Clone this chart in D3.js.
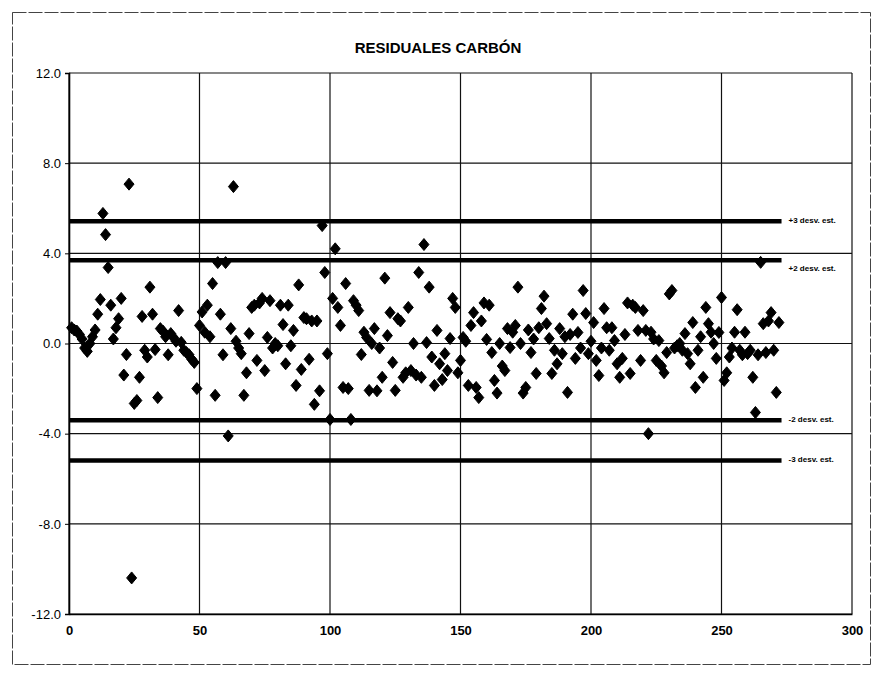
<!DOCTYPE html>
<html>
<head>
<meta charset="utf-8">
<script src="https://cdn.jsdelivr.net/npm/d3@7"></script>
<style>
  body { margin: 0; background: #fff; }
  text { font-family: "Liberation Sans Narrow", "Arial Narrow", "Liberation Sans", sans-serif; }
</style>
</head>
<body>
<div id="chart-area"></div>
<script>
const residuals = [
  0.7, 0.6, 0.55, 0.4, 0.2, -0.2, -0.35, 0.0, 0.3, 0.6,
  1.3, 1.95, 5.77, 4.83, 3.37, 1.7, 0.2, 0.7, 1.1, 2.0,
  -1.4, -0.49, 7.07, -10.4, -2.66, -2.53, -1.5, 1.2, -0.3, -0.6,
  2.5, 1.3, -0.27, -2.4, 0.66, 0.55, 0.3, -0.5, 0.44, 0.27,
  0.1, 1.46, 0.05, -0.3, -0.4, -0.5, -0.7, -0.84, -2.0, 0.8,
  1.4, 0.5, 1.7, 0.3, 2.66, -2.3, 3.59, 1.3, -0.5, 3.59,
  -4.1, 0.66, 6.96, 0.1, -0.2, -0.45, -2.3, -1.3, 0.44, 1.6,
  1.7, -0.75, 1.8, 2.0, -1.2, 0.27, 1.9, -0.2, 0.0, -0.1,
  1.7, 0.84, -0.9, 1.7, -0.1, 0.58, -1.86, 2.6, -1.15, 1.15,
  1.1, -0.7, 1.0, -2.7, 1.0, -2.1, 5.23, 3.15, -0.45, -3.37,
  2.0, 4.2, 1.6, 0.8, -1.95, 2.66, -2.0, -3.37, 1.9, 1.7,
  1.46, -0.49, 0.5, 0.27, -2.08, 0.0, 0.66, -2.1, -0.2, -1.5,
  2.9, 0.35, 1.37, -0.84, -2.08, 1.1, 1.0, -1.5, -1.3, 1.6,
  -1.2, 0.0, -1.4, 3.15, -1.5, 4.39, 0.04, 2.5, -0.6, -1.86,
  0.58, -0.9, -1.6, -0.45, -1.2, 0.22, 2.0, 1.6, -1.3, -0.75,
  0.27, 0.1, -1.86, 0.8, 1.37, -1.95, -2.4, 1.0, 1.8, 0.18,
  1.7, -0.4, -1.64, -2.2, 0.0, -1.0, -1.2, 0.66, -0.18, 0.5,
  0.8, 2.5, 0.0, -2.2, -1.95, 0.6, -0.4, 0.2, -1.33, 0.7,
  1.55, 2.1, 0.88, 0.22, -1.33, -0.3, -0.9, 0.66, -0.45, 0.3,
  -2.17, 0.4, 1.3, -0.66, 0.49, -0.2, 2.35, 1.33, -0.45, 0.1,
  0.93, -0.75, -1.42, -0.2, 1.55, 0.7, -0.3, 0.7, 0.13, -0.9,
  -1.5, -0.66, 0.4, 1.8, -1.33, 1.7, 1.6, 0.58, -0.75, 1.46,
  0.58, -4.0, 0.5, 0.2, -0.75, 0.13, -1.0, -1.3, -0.4, 2.2,
  2.35, -0.2, -0.1, 0.0, -0.3, 0.44, -0.45, -0.9, 0.93, -1.95,
  -0.3, 0.3, -1.5, 1.6, 0.88, 0.5, 0.0, -0.66, 0.49, 2.04,
  -1.64, -1.3, -0.6, -0.2, 0.5, 1.5, -0.3, -0.5, 0.5, -0.45,
  -0.3, -1.5, -3.06, -0.5, 3.6, 0.88, -0.4, 1.0, 1.37, -0.3,
  -2.17, 0.93
]

// control limits (mean +/- k standard deviations)
const limitLabels = ["+3 desv. est.", "+2 desv. est.", "-2 desv. est.", "-3 desv. est."]
const limitValues = [5.42, 3.69, -3.4, -5.19]
const limitEnd = 273

const xTicks = [0, 50, 100, 150, 200, 250, 300]
const yTicks = [12, 8, 4, 0, -4, -8, -12]

const title = "RESIDUALES CARBÓN"

const MARGIN = { LEFT: 69, RIGHT: 23, TOP: 73, BOTTOM: 66 }
const WIDTH = 875 - MARGIN.LEFT - MARGIN.RIGHT
const HEIGHT = 680 - MARGIN.TOP - MARGIN.BOTTOM

const svg = d3.select("#chart-area").append("svg")
  .attr("width", 875)
  .attr("height", 680)

// outer chart frame
svg.append("rect")
  .attr("x", 12.5)
  .attr("y", 12.5)
  .attr("width", 858)
  .attr("height", 652)
  .attr("fill", "none")
  .attr("stroke", "#444")
  .attr("stroke-width", 1)
  .attr("stroke-dasharray", "14,2")

svg.append("text")
  .attr("x", 438)
  .attr("y", 53)
  .attr("text-anchor", "middle")
  .attr("font-size", "15px")
  .attr("font-weight", "bold")
  .text(title)

const g = svg.append("g")
  .attr("transform", `translate(${MARGIN.LEFT}, ${MARGIN.TOP})`)

// scales
const x = d3.scaleLinear().domain([0, 300]).range([0, WIDTH])
const y = d3.scaleLinear().domain([-12, 12]).range([HEIGHT, 0])

// gridlines
g.append("g").selectAll("line.h")
  .data(yTicks)
  .enter().append("line")
  .attr("x1", 0).attr("x2", WIDTH)
  .attr("y1", d => y(d)).attr("y2", d => y(d))
  .attr("stroke", "#111")
  .attr("stroke-width", 1.2)

g.append("g").selectAll("line.v")
  .data(xTicks)
  .enter().append("line")
  .attr("x1", d => x(d)).attr("x2", d => x(d))
  .attr("y1", 0).attr("y2", HEIGHT)
  .attr("stroke", "#111")
  .attr("stroke-width", 1.2)

// axes
const yAxis = g.append("g")
  .call(d3.axisLeft(y).tickValues(yTicks).tickSize(4).tickPadding(4).tickFormat(d => d.toFixed(1)))
yAxis.select(".domain").attr("stroke-width", 1.6)
yAxis.selectAll("text")
  .attr("font-size", "13px")
  .attr("fill", "#000")

const xAxis = g.append("g")
  .attr("transform", `translate(0, ${HEIGHT})`)
  .call(d3.axisBottom(x).tickValues(xTicks).tickSize(0).tickPadding(12))
xAxis.select(".domain").attr("stroke-width", 1.6)
xAxis.selectAll("text")
  .attr("font-size", "13px")
  .attr("font-weight", "bold")
  .attr("fill", "#000")

// limit lines
g.append("g").selectAll("line.limit")
  .data(limitValues)
  .enter().append("line")
  .attr("x1", x(0)).attr("x2", x(limitEnd))
  .attr("y1", d => y(d)).attr("y2", d => y(d))
  .attr("stroke", "#000")
  .attr("stroke-width", 4.5)

g.append("g").selectAll("text.limit")
  .data(limitValues)
  .enter().append("text")
  .attr("x", x(limitEnd) + 7)
  .attr("y", (d, i) => y(d) + (i === 1 ? 11 : 2))
  .attr("font-size", "8px")
  .attr("font-weight", "bold")
  .text((d, i) => limitLabels[i])

// residual points as diamonds
const diamond = "M0,-6L5,0L0,6L-5,0Z"
g.append("g").selectAll("path.dot")
  .data(residuals)
  .enter().append("path")
  .attr("d", diamond)
  .attr("transform", (d, i) => `translate(${x(i + 1)}, ${y(d)})`)
  .attr("fill", "#000")
  .attr("stroke", "#000")
  .attr("stroke-width", 1)
  .attr("stroke-linejoin", "round")
</script>
</body>
</html>
